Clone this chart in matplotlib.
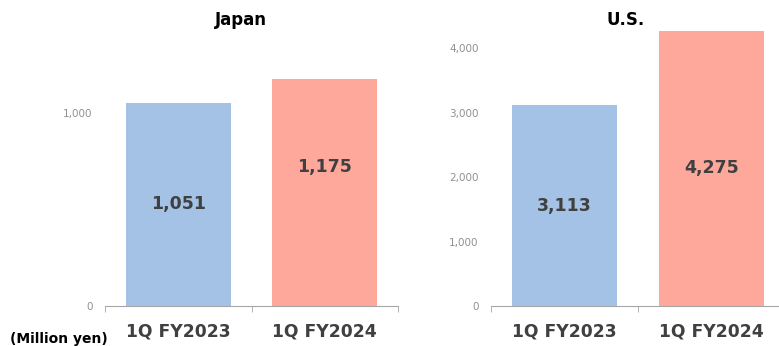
import matplotlib.pyplot as plt
from matplotlib import ticker

categories = ["1Q FY2023", "1Q FY2024"]
japan_values = [1051, 1175]
us_values = [3113, 4275]
unit_label = "(Million yen)"

blue = "#A3C2E5"
red = "#FDA89B"
grey = "#A6A6A6"
text_dark = "#404040"

fig = plt.figure(figsize=(7.79, 3.46), dpi=100)
ax1 = fig.add_axes([105/779, 40/346, 293/779, 290/346])
ax2 = fig.add_axes([491/779, 40/346, 294/779, 290/346])


def draw_panel(ax, values, ymax, step, label_frac):
    x = range(len(values))
    ax.bar(x, values, width=0.72, color=[blue, red])
    ax.set_xlim(-0.5, 1.5)
    ax.set_ylim(0, ymax)
    ax.yaxis.set_major_locator(ticker.MultipleLocator(step))
    ax.yaxis.set_major_formatter(ticker.FuncFormatter(lambda v, p: f"{int(v):,}"))
    for s in ["top", "right", "left"]:
        ax.spines[s].set_visible(False)
    ax.spines["bottom"].set_color(grey)
    ax.tick_params(axis="y", length=0, labelsize=7.5, labelcolor="#909090", pad=9)
    ax.set_xticks([-0.5, 0.5, 1.5], minor=True)
    ax.tick_params(axis="x", which="minor", length=4, color=grey)
    ax.set_xticks(list(x))
    ax.set_xticklabels(categories, fontsize=12.3, fontweight="bold", color=text_dark)
    ax.tick_params(axis="x", which="major", length=0, pad=12)
    for i, v in enumerate(values):
        ax.text(i, v * label_frac[i], f"{v:,}", ha="center", va="center",
                fontsize=12.5, fontweight="bold", color=text_dark)


draw_panel(ax1, japan_values, 1500, 1000, [0.5, 0.61])
draw_panel(ax2, us_values, 4500, 1000, [0.5, 0.5])

fig.text(241/779, 1 - 20/346, "Japan", ha="center", va="center",
         fontsize=12, fontweight="bold", color="black")
fig.text(626/779, 1 - 20/346, "U.S.", ha="center", va="center",
         fontsize=12, fontweight="bold", color="black")
fig.text(10/779, 1 - 339/346, unit_label, ha="left", va="center",
         fontsize=10, fontweight="bold", color="black")

fig.savefig("out.png", dpi=100)
